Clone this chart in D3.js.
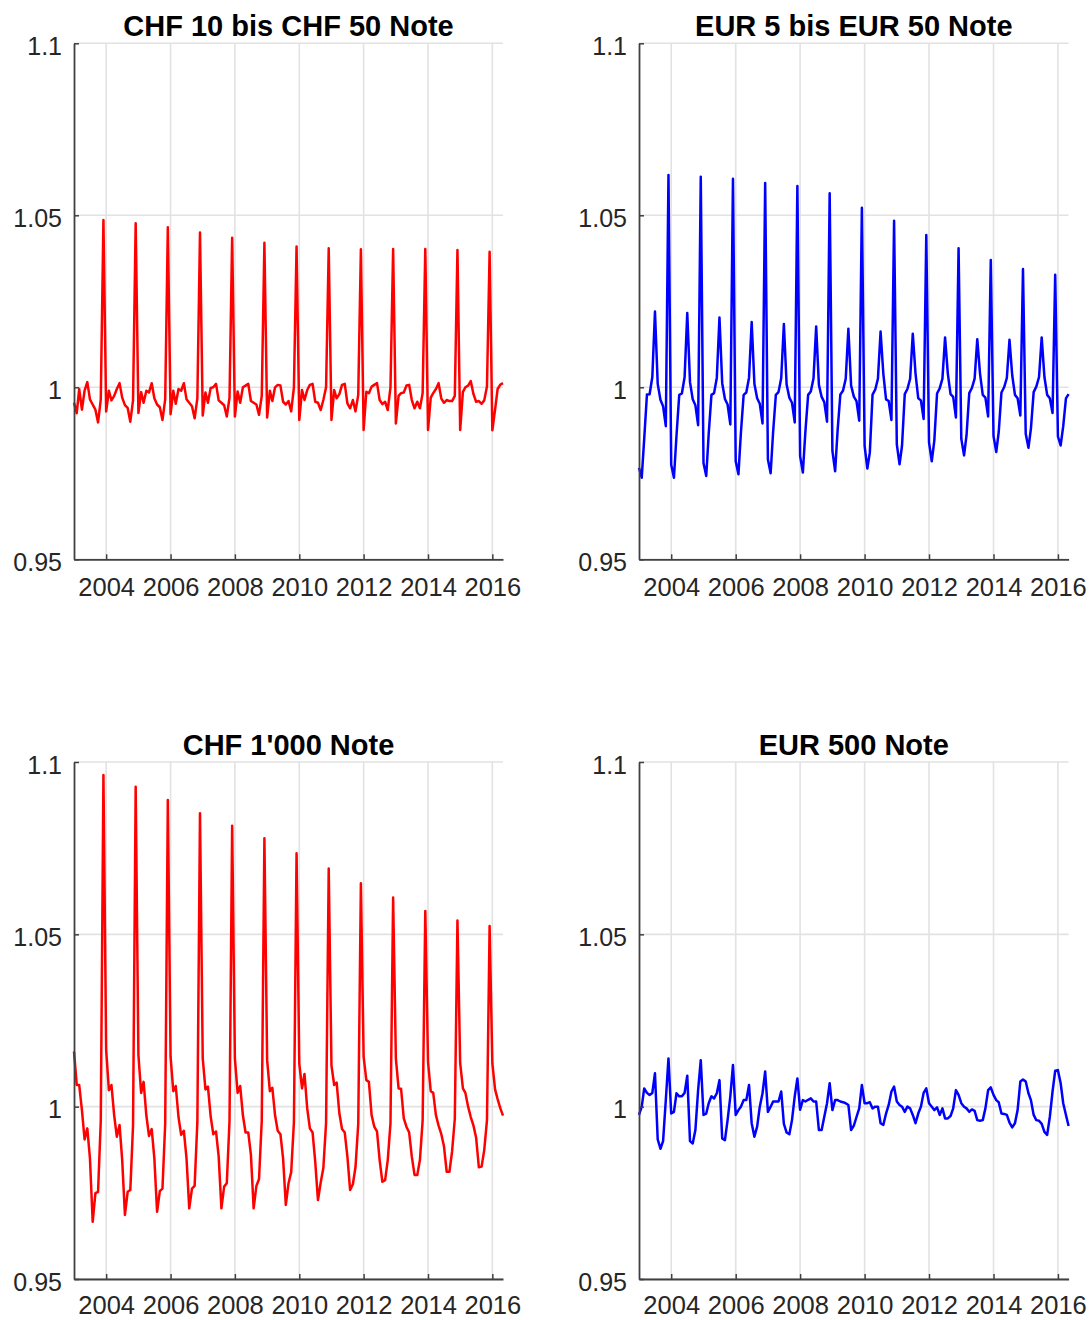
<!DOCTYPE html>
<html><head><meta charset="utf-8">
<script src="https://cdn.jsdelivr.net/npm/d3@7"></script>
<style>html,body{margin:0;padding:0;background:#fff;} svg{display:block;}</style>
</head><body>
<svg id="chart" width="1092" height="1320"></svg>
<script>
// ---------- data ----------
const titles = ["CHF 10 bis CHF 50 Note", "EUR 5 bis EUR 50 Note", "CHF 1'000 Note", "EUR 500 Note"];
const yTicks = [0.95, 1, 1.05, 1.1];
const yTickLabels = ["0.95", "1", "1.05", "1.1"];
const xTickYears = [2004, 2006, 2008, 2010, 2012, 2014, 2016];
const xTickLabels = ["2004", "2006", "2008", "2010", "2012", "2014", "2016"];
const startMonth = [2003, 0];   // Jan 2003
const endMonth = [2016, 4];     // May 2016

// monthly seasonal factors, Jan 2003 .. May 2016 (one row per year)
const chfSmall = [
  0.9955, 0.9925, 0.9995, 0.9935, 0.9990, 1.0015, 0.9965, 0.9950, 0.9935, 0.9898, 0.9965, 1.0486,
  0.9930, 0.9990, 0.9962, 0.9975, 0.9995, 1.0012, 0.9970, 0.9948, 0.9940, 0.9900, 0.9962, 1.0477,
  0.9925, 0.9986, 0.9955, 0.9990, 0.9985, 1.0012, 0.9968, 0.9950, 0.9942, 0.9905, 0.9965, 1.0465,
  0.9922, 0.9990, 0.9952, 0.9995, 0.9990, 1.0012, 0.9965, 0.9955, 0.9945, 0.9910, 0.9968, 1.0450,
  0.9918, 0.9985, 0.9955, 0.9998, 1.0000, 1.0010, 0.9962, 0.9955, 0.9948, 0.9915, 0.9970, 1.0435,
  0.9915, 0.9988, 0.9955, 1.0000, 1.0005, 1.0010, 0.9960, 0.9955, 0.9950, 0.9920, 0.9975, 1.0420,
  0.9912, 0.9990, 0.9960, 1.0000, 1.0007, 1.0005, 0.9958, 0.9950, 0.9960, 0.9930, 1.0000, 1.0409,
  0.9905, 0.9992, 0.9963, 0.9992, 1.0007, 1.0010, 0.9958, 0.9955, 0.9934, 0.9963, 1.0000, 1.0404,
  0.9905, 0.9992, 0.9968, 0.9980, 1.0007, 1.0010, 0.9953, 0.9939, 0.9963, 0.9930, 0.9978, 1.0401,
  0.9876, 0.9987, 0.9983, 1.0002, 1.0007, 1.0012, 0.9963, 0.9951, 0.9958, 0.9934, 1.0000, 1.0402,
  0.9895, 0.9975, 0.9983, 0.9985, 1.0005, 1.0007, 0.9963, 0.9939, 0.9958, 0.9939, 0.9983, 1.0402,
  0.9876, 0.9970, 0.9983, 0.9995, 1.0012, 0.9967, 0.9955, 0.9963, 0.9960, 0.9960, 0.9975, 1.0399,
  0.9876, 0.9987, 1.0000, 1.0005, 1.0018, 0.9980, 0.9958, 0.9960, 0.9952, 0.9962, 1.0002, 1.0394,
  0.9875, 0.9935, 0.9995, 1.0008, 1.0012
];
const eurSmall = [
  0.9766, 0.9737, 0.9850, 0.9979, 0.9980, 1.0030, 1.0220, 1.0010, 0.9964, 0.9945, 0.9887, 1.0617,
  0.9775, 0.9737, 0.9860, 0.9978, 0.9982, 1.0030, 1.0216, 1.0015, 0.9965, 0.9948, 0.9890, 1.0612,
  0.9780, 0.9742, 0.9865, 0.9978, 0.9983, 1.0028, 1.0203, 1.0012, 0.9966, 0.9950, 0.9892, 1.0606,
  0.9785, 0.9747, 0.9868, 0.9978, 0.9985, 1.0028, 1.0190, 1.0010, 0.9968, 0.9952, 0.9895, 1.0594,
  0.9790, 0.9750, 0.9870, 0.9978, 0.9986, 1.0027, 1.0184, 1.0008, 0.9970, 0.9955, 0.9898, 1.0585,
  0.9800, 0.9752, 0.9872, 0.9978, 0.9988, 1.0026, 1.0177, 1.0007, 0.9972, 0.9957, 0.9900, 1.0564,
  0.9815, 0.9756, 0.9875, 0.9979, 0.9990, 1.0025, 1.0170, 1.0005, 0.9973, 0.9960, 0.9903, 1.0522,
  0.9830, 0.9764, 0.9810, 0.9979, 0.9993, 1.0025, 1.0162, 1.0040, 0.9965, 0.9960, 0.9905, 1.0484,
  0.9834, 0.9776, 0.9830, 0.9980, 0.9995, 1.0025, 1.0156, 1.0040, 0.9968, 0.9962, 0.9908, 1.0443,
  0.9840, 0.9785, 0.9845, 0.9982, 0.9997, 1.0025, 1.0145, 1.0040, 0.9980, 0.9972, 0.9912, 1.0404,
  0.9850, 0.9802, 0.9860, 0.9983, 0.9998, 1.0025, 1.0140, 1.0040, 0.9978, 0.9970, 0.9915, 1.0370,
  0.9858, 0.9812, 0.9870, 0.9985, 1.0000, 1.0027, 1.0138, 1.0035, 0.9978, 0.9968, 0.9918, 1.0344,
  0.9865, 0.9824, 0.9880, 0.9986, 1.0002, 1.0030, 1.0145, 1.0030, 0.9978, 0.9968, 0.9925, 1.0327,
  0.9857, 0.9831, 0.9887, 0.9968, 0.9980
];
const chf1000 = [
  1.0160, 1.0063, 1.0063, 0.9990, 0.9905, 0.9937, 0.9850, 0.9666, 0.9749, 0.9753, 0.9960, 1.0962,
  1.0165, 1.0048, 1.0063, 0.9975, 0.9913, 0.9947, 0.9845, 0.9686, 0.9753, 0.9758, 0.9945, 1.0928,
  1.0150, 1.0040, 1.0072, 0.9975, 0.9915, 0.9935, 0.9850, 0.9695, 0.9755, 0.9762, 0.9950, 1.0890,
  1.0145, 1.0045, 1.0060, 0.9970, 0.9918, 0.9930, 0.9850, 0.9705, 0.9762, 0.9770, 0.9955, 1.0851,
  1.0140, 1.0050, 1.0058, 0.9972, 0.9920, 0.9928, 0.9855, 0.9705, 0.9768, 0.9778, 0.9958, 1.0815,
  1.0140, 1.0040, 1.0060, 0.9975, 0.9925, 0.9925, 0.9860, 0.9705, 0.9770, 0.9790, 0.9960, 1.0779,
  1.0135, 1.0045, 1.0055, 0.9975, 0.9930, 0.9920, 0.9850, 0.9715, 0.9778, 0.9810, 0.9955, 1.0735,
  1.0125, 1.0053, 1.0095, 0.9995, 0.9937, 0.9925, 0.9840, 0.9729, 0.9780, 0.9822, 0.9953, 1.0691,
  1.0120, 1.0063, 1.0070, 0.9980, 0.9935, 0.9925, 0.9855, 0.9758, 0.9775, 0.9825, 0.9950, 1.0648,
  1.0145, 1.0077, 1.0072, 0.9975, 0.9942, 0.9928, 0.9845, 0.9782, 0.9787, 0.9845, 0.9952, 1.0607,
  1.0140, 1.0053, 1.0052, 0.9966, 0.9942, 0.9925, 0.9855, 0.9802, 0.9802, 0.9845, 0.9960, 1.0568,
  1.0130, 1.0045, 1.0040, 0.9975, 0.9945, 0.9920, 0.9885, 0.9811, 0.9811, 0.9870, 0.9965, 1.0540,
  1.0126, 1.0053, 1.0040, 1.0000, 0.9970, 0.9945, 0.9910, 0.9824, 0.9826, 0.9874, 0.9960, 1.0524,
  1.0126, 1.0050, 1.0022, 0.9995, 0.9974
];
const eur500 = [
  0.9976, 1.0000, 1.0053, 1.0040, 1.0034, 1.0040, 1.0097, 0.9905, 0.9878, 0.9900, 1.0020, 1.0140,
  0.9980, 0.9985, 1.0039, 1.0030, 1.0030, 1.0040, 1.0090, 0.9900, 0.9893, 0.9932, 1.0048, 1.0135,
  0.9976, 0.9980, 1.0010, 1.0030, 1.0024, 1.0039, 1.0077, 0.9908, 0.9903, 0.9961, 1.0030, 1.0121,
  0.9976, 0.9990, 1.0000, 1.0019, 1.0019, 1.0063, 0.9952, 0.9913, 0.9942, 1.0000, 1.0039, 1.0102,
  0.9985, 1.0000, 1.0015, 1.0015, 1.0015, 1.0044, 0.9950, 0.9925, 0.9920, 0.9961, 1.0030, 1.0082,
  0.9991, 1.0019, 1.0015, 1.0020, 1.0024, 1.0015, 1.0015, 0.9932, 0.9932, 0.9971, 1.0010, 1.0068,
  0.9990, 1.0019, 1.0019, 1.0015, 1.0013, 1.0010, 1.0005, 0.9932, 0.9945, 0.9970, 0.9995, 1.0063,
  1.0010, 1.0010, 1.0013, 0.9995, 1.0000, 1.0000, 0.9952, 0.9947, 0.9980, 1.0005, 1.0044, 1.0058,
  1.0015, 1.0005, 1.0000, 0.9985, 1.0000, 0.9995, 0.9976, 0.9952, 0.9980, 1.0000, 1.0040, 1.0053,
  1.0010, 1.0000, 0.9990, 0.9998, 0.9976, 0.9995, 0.9966, 0.9966, 0.9973, 0.9995, 1.0048, 1.0034,
  1.0010, 1.0000, 0.9995, 0.9985, 0.9992, 0.9988, 0.9961, 0.9959, 0.9961, 0.9995, 1.0048, 1.0056,
  1.0034, 1.0019, 1.0013, 0.9980, 0.9979, 0.9976, 0.9954, 0.9940, 0.9952, 0.9990, 1.0073, 1.0079,
  1.0073, 1.0039, 1.0019, 0.9976, 0.9961, 0.9959, 0.9950, 0.9927, 0.9918, 0.9970, 1.0044, 1.0104,
  1.0106, 1.0068, 1.0010, 0.9976, 0.9944
];

// ---------- layout ----------
const dates = d3.utcMonth.range(
  new Date(Date.UTC(startMonth[0], startMonth[1], 1)),
  d3.utcMonth.offset(new Date(Date.UTC(endMonth[0], endMonth[1], 1)), 1));

const panels = [
  {title: titles[0], values: chfSmall, color: "#ff0000", x0: 74,  x1: 503,   y0: 43.3, y1: 559.3, pad: 19},
  {title: titles[1], values: eurSmall, color: "#0000ff", x0: 639, x1: 1068.6, y0: 43.3, y1: 559.3, pad: 19},
  {title: titles[2], values: chf1000,  color: "#ff0000", x0: 74,  x1: 503,   y0: 762,  y1: 1279, pad: 16.5},
  {title: titles[3], values: eur500,   color: "#0000ff", x0: 639, x1: 1068.6, y0: 762,  y1: 1279, pad: 16.5}
];

const svg = d3.select("#chart");
const FONT = "'Liberation Sans', Arial, Helvetica, sans-serif";
const axisColor = "#404040";
const gridColor = "#e2e2e2";

panels.forEach(p => {
  const x = d3.scaleUtc().domain([dates[0], dates[dates.length - 1]]).range([p.x0, p.x1]);
  const y = d3.scaleLinear().domain([yTicks[0], yTicks[yTicks.length - 1]]).range([p.y1, p.y0]);
  const xTickDates = xTickYears.map(yr => new Date(Date.UTC(yr, 0, 1)));
  const g = svg.append("g");

  // grid
  g.append("g").selectAll("line.h").data(yTicks).join("line")
    .attr("x1", p.x0).attr("x2", p.x1)
    .attr("y1", d => y(d)).attr("y2", d => y(d))
    .attr("stroke", gridColor).attr("stroke-width", 1.6);
  g.append("g").selectAll("line.v").data(xTickDates).join("line")
    .attr("x1", d => x(d)).attr("x2", d => x(d))
    .attr("y1", p.y0).attr("y2", p.y1)
    .attr("stroke", gridColor).attr("stroke-width", 1.6);

  // series
  const line = d3.line().x((d, i) => x(dates[i])).y(d => y(d));
  g.append("path").datum(p.values)
    .attr("d", line)
    .attr("fill", "none").attr("stroke", p.color)
    .attr("stroke-width", 2.5).attr("stroke-linejoin", "round");

  // axes
  const xAxis = d3.axisBottom(x).tickValues(xTickDates)
    .tickFormat((d, i) => xTickLabels[i]).tickSizeInner(-5).tickSizeOuter(0).tickPadding(p.pad);
  const gx = g.append("g").attr("transform", `translate(0,${p.y1})`).call(xAxis);
  const yAxis = d3.axisLeft(y).tickValues(yTicks)
    .tickFormat((d, i) => yTickLabels[i]).tickSizeInner(-5).tickSizeOuter(0).tickPadding(12);
  const gy = g.append("g").attr("transform", `translate(${p.x0},0)`).call(yAxis);

  [gx, gy].forEach(a => {
    a.select(".domain").attr("stroke", axisColor).attr("stroke-width", 1.8);
    a.selectAll(".tick line").attr("stroke", axisColor).attr("stroke-width", 1.5);
    a.selectAll(".tick text").attr("fill", "#262626")
      .style("font-family", FONT);
  });
  gx.selectAll(".tick text").style("font-size", "25.5px");
  gy.selectAll(".tick text").style("font-size", "25px").attr("dy", "0.45em");

  // title
  g.append("text")
    .attr("x", (p.x0 + p.x1) / 2).attr("y", p.y0 - 7.5)
    .attr("text-anchor", "middle")
    .style("font-family", FONT).style("font-size", "29px").style("font-weight", "bold")
    .attr("fill", "#000").text(p.title);
});
</script>
</body></html>
